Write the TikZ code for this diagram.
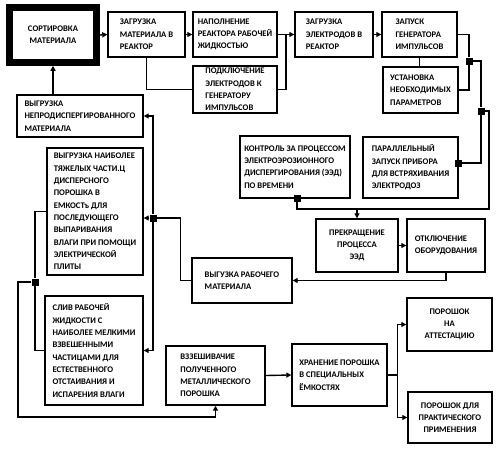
\documentclass[tikz,border=0pt]{standalone}
\usepackage{fontspec}
\setmainfont{Carlito}
\usetikzlibrary{arrows.meta,calc}

\begin{document}
\begin{tikzpicture}[
  x=1pt, y=-1pt,
  every node/.style={font=\bfseries\fontsize{8.6}{12.3}\selectfont},
  blk/.style={draw,line width=1.4pt,align=left,inner sep=0pt},
  ctr/.style={blk,align=center},
  sq/.style={fill=black,inner sep=0pt,minimum size=7pt},
  arr/.style={line width=1.4pt,-{Triangle[length=5pt,width=5pt]}},
  ln/.style={line width=1.4pt},
]
  \useasboundingbox (0,0) rectangle (497,450);

  % top row
  \node[ctr,line width=6.5pt,minimum width=87pt,minimum height=55pt]
    (sort) at (53,35) {СОРТИРОВКА\\МАТЕРИАЛА};
  \node[blk,minimum width=77pt,minimum height=45pt]
    (zmat) at (146.5,34.5) {ЗАГРУЗКА\\МАТЕРИАЛА В\\РЕАКТОР};
  \node[blk,minimum width=84pt,minimum height=45pt]
    (napoln) at (235,34.5) {НАПОЛНЕНИЕ\\РЕАКТОРА РАБОЧЕЙ\\ЖИДКОСТЬЮ};
  \node[blk,minimum width=84pt,minimum height=47pt]
    (podkl) at (235,89.5) {ПОДКЛЮЧЕНИЕ\\ЭЛЕКТРОДОВ К\\ГЕНЕРАТОРУ\\ИМПУЛЬСОВ};
  \node[blk,minimum width=78pt,minimum height=45pt]
    (zelek) at (334,34.5) {ЗАГРУЗКА\\ЭЛЕКТРОДОВ В\\РЕАКТОР};
  \node[blk,minimum width=75pt,minimum height=45pt]
    (zapusk) at (419.5,34.5) {ЗАПУСК\\ГЕНЕРАТОРА\\ИМПУЛЬСОВ};
  \node[blk,minimum width=75pt,minimum height=46pt]
    (ustan) at (420.5,90) {УСТАНОВКА\\НЕОБХОДИМЫХ\\ПАРАМЕТРОВ};

  % left column
  \node[blk,minimum width=126pt,minimum height=42pt]
    (vnepr) at (80,116) {ВЫГРУЗКА\\НЕПРОДИСПЕРГИРОВАННОГО\\МАТЕРИАЛА};
  \node[blk,minimum width=96pt,minimum height=127pt]
    (vtyazh) at (95,211.5) {ВЫГРУЗКА НАИБОЛЕЕ\\ТЯЖЕЛЫХ ЧАСТИ.Ц\\ДИСПЕРСНОГО\\ПОРОШКА В\\ЕМКОСТъ ДЛЯ\\ПОСЛЕДУЮЩЕГО\\ВЫПАРИВАНИЯ\\ВЛАГИ ПРИ ПОМОЩИ\\ЭЛЕКТРИЧЕСКОЙ\\ПЛИТЫ};
  \node[blk,minimum width=98pt,minimum height=109pt]
    (sliv) at (94,350.5) {СЛИВ РАБОЧЕЙ\\ЖИДКОСТИ С\\НАИБОЛЕЕ МЕЛКИМИ\\ВЗВЕШЕННЫМИ\\ЧАСТИЦАМИ ДЛЯ\\ЕСТЕСТВЕННОГО\\ОТСТАИВАНИЯ И\\ИСПАРЕНИЯ ВЛАГИ};

  % middle
  \node[blk,minimum width=110pt,minimum height=62pt]
    (kontrol) at (295,167) {КОНТРОЛЬ ЗА ПРОЦЕССОМ\\ЭЛЕКТРОЭРОЗИОННОГО\\ДИСПЕРГИРОВАНИЯ (ЭЭД)\\ПО ВРЕМЕНИ};
  \node[blk,minimum width=95pt,minimum height=61pt]
    (parall) at (410.5,167.5) {ПАРАЛЛЕЛЬНЫЙ\\ЗАПУСК ПРИБОРА\\ДЛЯ ВСТРЯХИВАНИЯ\\ЭЛЕКТРОДОЗ};
  \node[ctr,minimum width=82pt,minimum height=53pt]
    (prekr) at (357,245.5) {ПРЕКРАЩЕНИЕ\\ПРОЦЕССА\\ЭЭД};
  \node[blk,minimum width=78pt,minimum height=53pt]
    (otkl) at (446,245.5) {ОТКЛЮЧЕНИЕ\\ОБОРУДОВАНИЯ};
  \node[blk,minimum width=100pt,minimum height=45pt]
    (vrab) at (242,280.5) {ВЫГУЗКА РАБОЧЕГО\\МАТЕРИАЛА};

  % bottom
  \node[blk,minimum width=99pt,minimum height=59pt]
    (vzvesh) at (215.5,375.5) {ВЗЗЕШИВАЧИЕ\\ПОЛУЧЕННОГО\\МЕТАЛЛИЧЕСКОГО\\ПОРОШКА};
  \node[blk,minimum width=95pt,minimum height=62pt]
    (hran) at (339.5,375) {ХРАНЕНИЕ ПОРОШКА\\В СПЕЦИАЛЬНЫХ\\ЁМКОСТЯХ};
  \node[ctr,minimum width=85pt,minimum height=53pt]
    (attest) at (449.5,324.5) {ПОРОШОК\\НА\\АТТЕСТАЦИЮ};
  \node[ctr,minimum width=84pt,minimum height=51pt]
    (prakt) at (450,417.5) {ПОРОШОК ДЛЯ\\ПРАКТИЧЕСКОГО\\ПРИМЕНЕНИЯ};

  % junctions
  \node[sq] (j1) at (469,61) {};
  \node[sq] (j2) at (481,111) {};
  \node[sq] (j3) at (458,163) {};
  \node[sq] (j4) at (297,198) {};
  \node[sq] (j5) at (153,218) {};
  \node[sq] (j6) at (35,282) {};
  \coordinate (m1) at ($(napoln.east)!.5!(zelek.west)$);
  \coordinate (bus) at (489,209);
  \coordinate (low) at (18,417);
  \coordinate (split) at ($(hran.east)+(10,0)$);

  % top chain
  \draw[arr] (sort.east) -- (zmat.west);
  \draw[arr] (zmat.east) -- (napoln.west);
  \draw[ln] (zmat.south) |- (podkl.west);
  \draw[ln] (podkl.east) -| (m1);
  \draw[arr] (napoln.east) -- (zelek.west);
  \draw[arr] (zelek.east) -- (zapusk.west);
  \draw[ln] (zapusk.south) -- (zapusk.south |- ustan.north);

  % right side
  \draw[ln] (zapusk.east) -| (j1);
  \draw[ln] (ustan.east) -| (j1);
  \draw[ln] (j1) -| (j2);
  \draw[ln] (j2) |- (j3);
  \draw[ln] (j2) -| (bus) -| (j4);
  \draw[arr] (prekr.north |- bus) -- (prekr.north);
  \draw[arr] (prekr.east) -- (otkl.west);
  \draw[arr] (otkl.south) |- (vrab.east);

  % left side
  \draw[ln] (vrab.west) -- ++(-11,0) |- (j5);
  \draw[arr] (j5) -- (vtyazh.east |- j5);
  \draw[arr] (j5) |- (vnepr.east);
  \draw[arr] (j5) |- (sliv.east);
  \draw[arr] (sort.south |- vnepr.north) -- (sort.south);
  \draw[ln] (vtyazh.west) -| (j6);
  \draw[ln] (sliv.west) -| (j6);
  \draw[arr] (j6) -| (low) -| (vzvesh.south);

  % storage
  \draw[arr] (vzvesh.east) -- (hran.west);
  \draw[ln] (hran.east) -- (split);
  \draw[arr] (split) |- (attest.west);
  \draw[arr] (split) |- (prakt.west);
\end{tikzpicture}
\end{document}
